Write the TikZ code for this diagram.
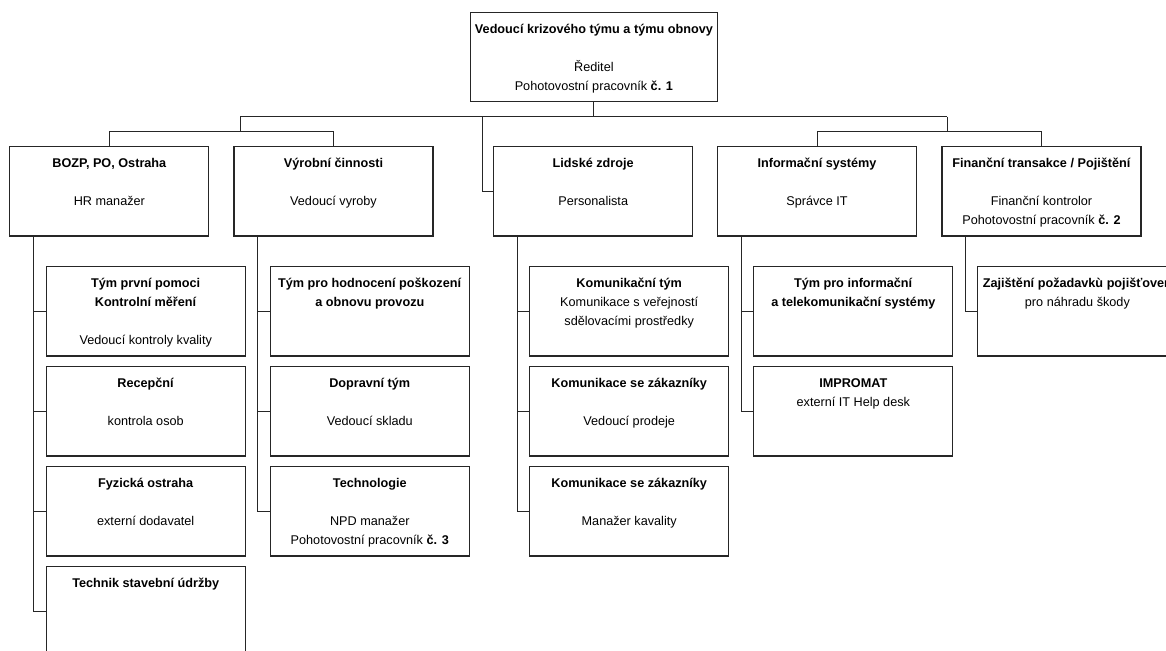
\documentclass[tikz,border=0pt]{standalone}
\usepackage{fontspec}
\setmainfont{Liberation Sans}
\newcommand{\boxtxt}[2][149.25pt]{\parbox[t][67pt][t]{#1}{\centering\fontsize{9.5}{14.25}\selectfont\vspace*{5.5pt}\strut#2}}
\tikzset{
  orgbox/.style={draw=black!85, line width=0.8pt, fill=white, inner sep=0pt},
  orgline/.style={draw=black!85, line width=0.7pt}
}
\begin{document}
\begin{tikzpicture}[x=0.75pt,y=-0.75pt]
    \useasboundingbox (0,0) rectangle (1166,650);
    % vedeni
    \node[orgbox] (top) at (593.9,57.2) {\boxtxt[185.8pt]{\textbf{Vedoucí krizového týmu a týmu obnovy}\\\mbox{}\\Ředitel\\Pohotovostní pracovník \textbf{č. 1}}};
    % oddeleni
    \node[orgbox] (bozp) at (109.4,191.3) {\boxtxt{\textbf{BOZP, PO, Ostraha}\\\mbox{}\\HR manažer}};
    \node[orgbox] (vyr) at (333.5,191.3) {\boxtxt{\textbf{Výrobní činnosti}\\\mbox{}\\Vedoucí vyroby}};
    \node[orgbox] (lid) at (593.2,191.3) {\boxtxt{\textbf{Lidské zdroje}\\\mbox{}\\Personalista}};
    \node[orgbox] (info) at (817,191.3) {\boxtxt{\textbf{Informační systémy}\\\mbox{}\\Správce IT}};
    \node[orgbox] (fin) at (1041.5,191.3) {\boxtxt{\textbf{Finanční transakce / Pojištění}\\\mbox{}\\Finanční kontrolor\\Pohotovostní pracovník \textbf{č. 2}}};
    % tymy
    \node[orgbox] (bozp1) at (145.7,311.3) {\boxtxt{\textbf{Tým první pomoci}\\\textbf{Kontrolní měření}\\\mbox{}\\Vedoucí kontroly kvality}};
    \node[orgbox] (bozp2) at (145.7,411.3) {\boxtxt{\textbf{Recepční}\\\mbox{}\\kontrola osob}};
    \node[orgbox] (bozp3) at (145.7,511.3) {\boxtxt{\textbf{Fyzická ostraha}\\\mbox{}\\externí dodavatel}};
    \node[orgbox] (bozp4) at (145.7,611.3) {\boxtxt{\textbf{Technik stavební údržby}}};
    \node[orgbox] (vyr1) at (369.8,311.3) {\boxtxt{\textbf{Tým pro hodnocení poškození}\\\textbf{a obnovu provozu}}};
    \node[orgbox] (vyr2) at (369.8,411.3) {\boxtxt{\textbf{Dopravní tým}\\\mbox{}\\Vedoucí skladu}};
    \node[orgbox] (vyr3) at (369.8,511.3) {\boxtxt{\textbf{Technologie}\\\mbox{}\\NPD manažer\\Pohotovostní pracovník \textbf{č. 3}}};
    \node[orgbox] (lid1) at (629.2,311.3) {\boxtxt{\textbf{Komunikační tým}\\Komunikace s veřejností\\sdělovacími prostředky}};
    \node[orgbox] (lid2) at (629.2,411.3) {\boxtxt{\textbf{Komunikace se zákazníky}\\\mbox{}\\Vedoucí prodeje}};
    \node[orgbox] (lid3) at (629.2,511.3) {\boxtxt{\textbf{Komunikace se zákazníky}\\\mbox{}\\Manažer kavality}};
    \node[orgbox] (info1) at (853.3,311.3) {\boxtxt{\textbf{Tým pro informační}\\\textbf{a telekomunikační systémy}}};
    \node[orgbox] (info2) at (853.3,411.3) {\boxtxt{\textbf{IMPROMAT}\\externí IT Help desk}};
    \node[orgbox] (fin1) at (1077.4,311.3) {\boxtxt{\textbf{Zajištění požadavkù pojišťoven}\\pro náhradu škody}};
    % spojnice
    \coordinate (barL) at (240,116.7);
    \coordinate (barR) at (947,116.7);
    \coordinate (barM) at (482.3,116.7);
    \coordinate (subL) at (240,131.7);
    \coordinate (subR) at (947,131.7);
    \draw[orgline] (top.south) -- (top.south |- barL);
    \draw[orgline] (barL) -- (barR);
    \draw[orgline] (barL) -- (subL);
    \draw[orgline] (barR) -- (subR);
    \draw[orgline] (bozp.north) |- (subL) -| (vyr.north);
    \draw[orgline] (info.north) |- (subR) -| (fin.north);
    \draw[orgline] (barM) |- (lid.west);
    \draw[orgline] (bozp.south west) ++(24.3,0) |- (bozp4.west);
    \draw[orgline] (vyr.south west) ++(24.3,0) |- (vyr3.west);
    \draw[orgline] (lid.south west) ++(24.3,0) |- (lid3.west);
    \draw[orgline] (info.south west) ++(24.3,0) |- (info2.west);
    \draw[orgline] (fin.south west) ++(24.3,0) |- (fin1.west);
    \foreach \c in {bozp1,bozp2,bozp3,vyr1,vyr2,lid1,lid2,info1}
        \draw[orgline] (\c.west) -- ++(-12,0);
\end{tikzpicture}
\end{document}
